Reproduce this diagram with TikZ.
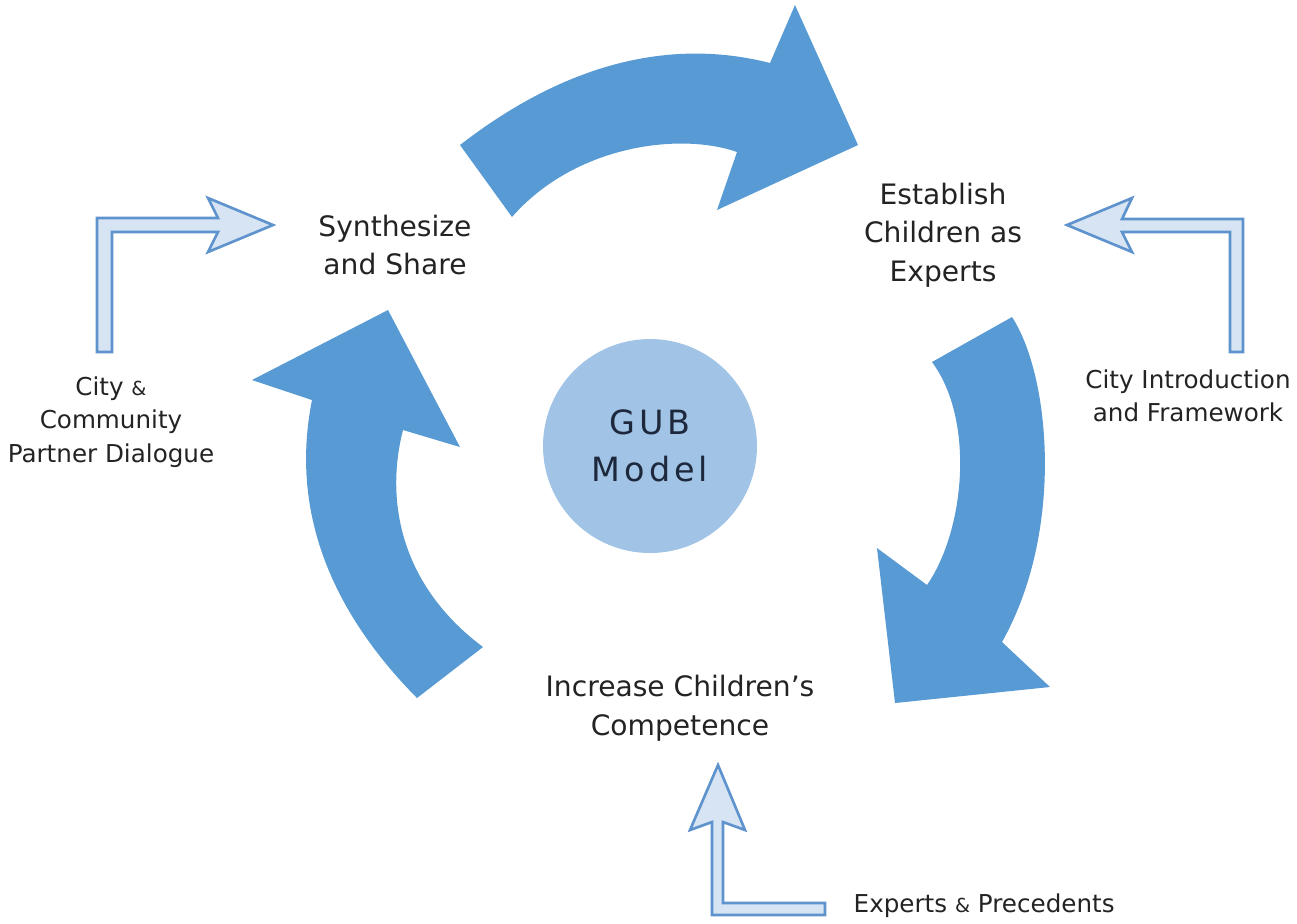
\documentclass[tikz,border=0pt]{standalone}
\usepackage{fontspec}
\setmainfont{DejaVu Sans}
\newfontfamily\gubfont[LetterSpace=12]{DejaVu Sans}
\definecolor{bigblue}{RGB}{87,154,212}
\definecolor{circblue}{RGB}{161,196,230}
\definecolor{hollowfill}{RGB}{214,228,244}
\definecolor{hollowline}{RGB}{95,147,205}
\definecolor{txt}{RGB}{35,35,35}
\definecolor{gubtxt}{RGB}{30,40,60}
\newcommand{\amp}{{\fontsize{5.5}{5.5}\selectfont\&}}
\newlength{\pxu}\setlength{\pxu}{0.01cm}
\tikzset{
  bigarrow/.style={fill=bigblue},
  hollowarrow/.style={fill=hollowfill,draw=hollowline,line width=0.75pt,line join=miter},
  mainlabel/.style={align=center,inner sep=0pt,text=txt,font=\fontsize{8}{11}\selectfont},
  sidelabel/.style={align=center,inner sep=0pt,text=txt,font=\fontsize{7}{9.5}\selectfont},
  hub/.style={circle,fill=circblue,minimum size=214\pxu,inner sep=0pt,align=center,text=gubtxt,font=\gubfont\fontsize{9.5}{13.2}\selectfont}
}
\begin{document}
\begin{tikzpicture}[x=0.01cm,y=-0.01cm]
\useasboundingbox (0,0) rectangle (1297,923);
% central hub
\node[hub] (gub) at (650,446) {GUB\\Model};
% big curved arrows
\fill[bigarrow] (460,145) .. controls (575,56) and (680,40) .. (770,63)
  -- (795,5) -- (858,145) -- (717,210) -- (737,152)
  .. controls (680,132) and (575,145) .. (512,217) -- cycle;
\fill[bigarrow] (1012,317) .. controls (1050,375) and (1065,530) .. (1002,642)
  -- (1050,687) -- (895,703) -- (877,548) -- (927,585)
  .. controls (965,530) and (975,420) .. (932,362) -- cycle;
\fill[bigarrow] (417,698) .. controls (330,610) and (290,510) .. (312,400)
  -- (252,380) -- (388,310) -- (460,447) -- (403,430)
  .. controls (385,500) and (400,585) .. (483,647) -- cycle;
% stage labels
\node[mainlabel] (synth) at (395,245) {Synthesize\\and Share};
\node[mainlabel] (estab) at (943,235) {Establish\\Children as\\Experts};
\node[mainlabel] (incr) at (680,708) {Increase Children’s\\Competence};
% input labels
\node[sidelabel] (citycomm) at (111,422) {City \amp\\Community\\Partner Dialogue};
\node[sidelabel] (cityintro) at (1188,396) {City Introduction\\and Framework};
\node[sidelabel,anchor=west] (experts) at (853,906) {Experts \amp{} Precedents};
% hollow input arrows
\draw[hollowarrow] (97,352) -- (97,218) -- (218,218) -- (208,198) -- (273,225)
  -- (208,252) -- (218,232) -- (112,232) -- (112,352) -- cycle;
\draw[hollowarrow] (1243,352) -- (1243,219) -- (1122,219) -- (1132,198) -- (1067,225)
  -- (1132,252) -- (1122,232) -- (1230,232) -- (1230,352) -- cycle;
\draw[hollowarrow] (825,915) -- (712,915) -- (712,822) -- (690,830) -- (718,765)
  -- (745,830) -- (723,822) -- (723,903) -- (825,903) -- cycle;
\end{tikzpicture}
\end{document}
